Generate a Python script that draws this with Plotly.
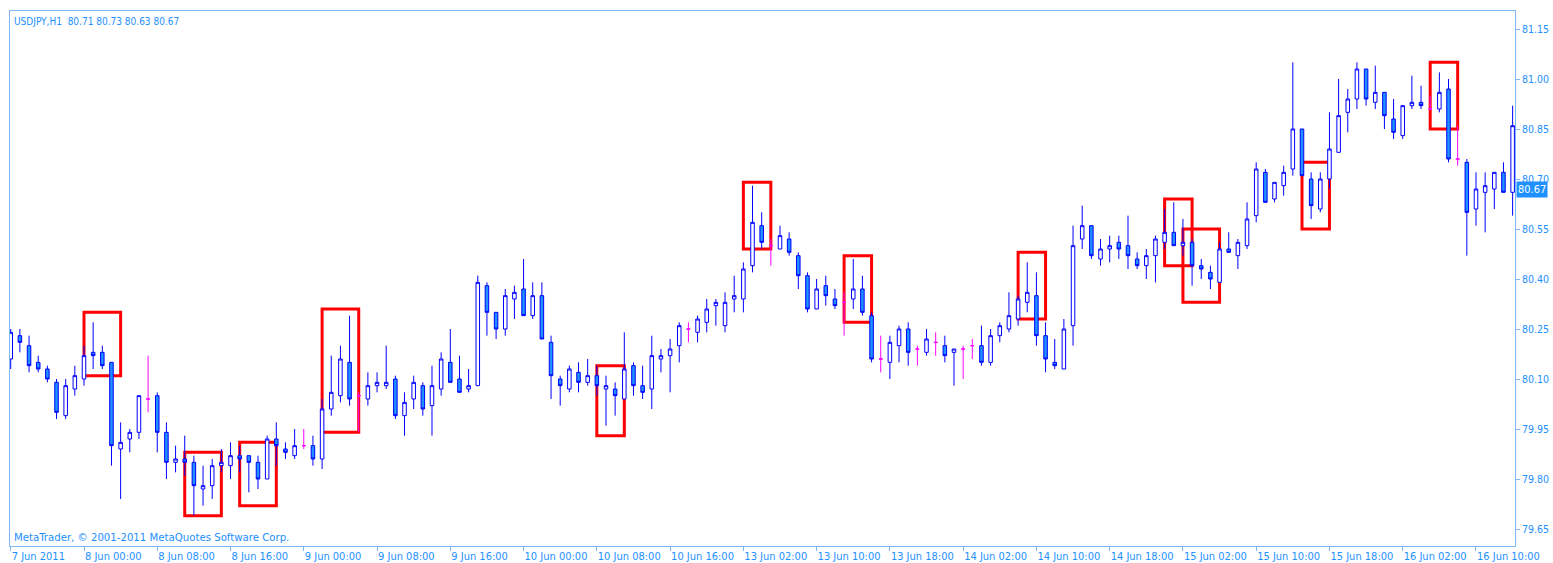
import plotly.graph_objects as go

# ---- data ----
opens = [80.16,80.23,80.20,80.15,80.13,80.09,79.99,80.07,80.10,80.18,
         80.18,80.15,79.89,79.92,79.94,80.04,80.05,79.94,79.85,79.86,
         79.85,79.77,79.78,79.84,79.84,79.87,79.87,79.85,79.80,79.92,
         79.89,79.87,79.90,79.90,79.86,80.01,80.05,80.15,80.05,80.04,
         80.08,80.08,80.10,79.99,80.04,80.08,80.02,80.07,80.15,80.10,
         80.07,80.08,80.38,80.30,80.25,80.34,80.37,80.29,80.35,80.21,
         80.10,80.07,80.12,80.09,80.11,80.07,80.07,80.04,80.14,80.08,
         80.07,80.16,80.17,80.20,80.25,80.24,80.27,80.32,80.26,80.34,
         80.34,80.44,80.56,80.50,80.49,80.52,80.47,80.41,80.31,80.38,
         80.34,80.33,80.34,80.37,80.29,80.16,80.15,80.20,80.25,80.19,
         80.18,80.21,80.20,80.18,80.19,80.20,80.20,80.15,80.23,80.25,
         80.28,80.33,80.35,80.23,80.15,80.13,80.26,80.52,80.56,80.46,
         80.49,80.51,80.50,80.46,80.44,80.47,80.51,80.54,80.50,80.51,
         80.44,80.42,80.39,80.49,80.47,80.50,80.59,80.72,80.64,80.68,
         80.73,80.85,80.70,80.61,80.70,80.78,80.90,80.94,81.03,80.93,
         80.96,80.88,80.83,80.92,80.93,80.91,80.91,80.97,80.76,80.75,
         80.61,80.66,80.67,80.72,80.66,80.71]
highs = [80.25,80.25,80.23,80.17,80.14,80.10,80.10,80.14,80.20,80.27,
         80.20,80.15,79.97,79.95,80.05,80.17,80.06,79.97,79.90,79.93,
         79.87,79.84,79.86,79.89,79.91,79.90,79.87,79.87,79.93,79.97,
         79.91,79.95,79.95,79.93,80.04,80.17,80.20,80.29,80.06,80.12,
         80.12,80.20,80.11,80.06,80.11,80.09,80.14,80.18,80.25,80.17,
         80.13,80.41,80.39,80.30,80.37,80.38,80.46,80.39,80.39,80.23,
         80.11,80.14,80.15,80.16,80.14,80.11,80.09,80.24,80.15,80.14,
         80.23,80.19,80.22,80.27,80.27,80.29,80.34,80.34,80.36,80.41,
         80.45,80.68,80.60,80.52,80.56,80.54,80.48,80.42,80.40,80.41,
         80.37,80.36,80.46,80.41,80.30,80.23,80.23,80.26,80.27,80.20,
         80.25,80.24,80.23,80.19,80.20,80.22,80.26,80.25,80.27,80.36,
         80.35,80.45,80.42,80.27,80.22,80.28,80.56,80.62,80.56,80.52,
         80.53,80.53,80.59,80.48,80.49,80.53,80.61,80.63,80.58,80.52,
         80.46,80.44,80.51,80.54,80.52,80.63,80.75,80.73,80.69,80.74,
         81.05,80.85,80.72,80.72,80.90,81.00,80.97,81.05,81.03,81.04,
         80.96,80.94,80.92,81.01,80.98,80.95,81.02,81.00,80.86,80.76,
         80.72,80.72,80.72,80.75,80.92,80.73]
lows = [80.13,80.18,80.12,80.12,80.09,79.98,79.98,80.05,80.08,80.13,
        80.13,79.84,79.74,79.88,79.92,80.00,79.88,79.80,79.82,79.81,
        79.69,79.72,79.74,79.82,79.80,79.82,79.76,79.77,79.80,79.84,
        79.86,79.86,79.89,79.84,79.83,79.99,80.03,80.02,79.94,80.02,
        80.06,80.07,79.98,79.93,80.01,79.99,79.93,80.05,80.09,80.06,
        80.06,80.08,80.23,80.22,80.23,80.28,80.29,80.28,80.22,80.04,
        80.02,80.06,80.06,80.08,80.05,79.96,79.99,80.04,80.05,80.04,
        80.01,80.12,80.06,80.15,80.21,80.21,80.24,80.26,80.24,80.30,
        80.30,80.42,80.49,80.44,80.49,80.47,80.37,80.30,80.31,80.32,
        80.31,80.23,80.31,80.29,80.15,80.12,80.10,80.15,80.14,80.14,
        80.17,80.17,80.15,80.08,80.10,80.16,80.14,80.14,80.21,80.24,
        80.26,80.30,80.20,80.12,80.13,80.13,80.20,80.49,80.46,80.44,
        80.45,80.46,80.43,80.43,80.40,80.39,80.49,80.50,80.47,80.38,
        80.40,80.37,80.39,80.48,80.43,80.49,80.57,80.63,80.63,80.65,
        80.71,80.71,80.58,80.60,80.67,80.78,80.84,80.91,80.92,80.91,
        80.85,80.82,80.82,80.91,80.91,80.91,80.90,80.75,80.74,80.47,
        80.56,80.54,80.61,80.66,80.59,80.63]
closes = [80.24,80.21,80.14,80.13,80.10,80.00,80.08,80.11,80.17,80.17,
          80.14,79.90,79.91,79.94,80.05,80.04,79.94,79.85,79.86,79.85,
          79.78,79.78,79.84,79.85,79.87,79.86,79.85,79.80,79.92,79.90,
          79.88,79.90,79.90,79.86,80.01,80.06,80.16,80.04,80.05,80.08,
          80.09,80.09,79.99,80.03,80.09,80.01,80.08,80.16,80.09,80.06,
          80.08,80.39,80.30,80.25,80.35,80.36,80.29,80.35,80.22,80.11,
          80.08,80.13,80.09,80.11,80.08,80.08,80.05,80.13,80.08,80.06,
          80.17,80.17,80.19,80.26,80.25,80.28,80.31,80.33,80.33,80.35,
          80.43,80.57,80.51,80.50,80.53,80.48,80.41,80.31,80.37,80.35,
          80.32,80.33,80.37,80.30,80.16,80.16,80.21,80.25,80.18,80.19,
          80.22,80.21,80.17,80.19,80.19,80.20,80.15,80.23,80.26,80.29,
          80.34,80.36,80.23,80.16,80.14,80.25,80.50,80.56,80.47,80.49,
          80.50,80.49,80.47,80.44,80.47,80.52,80.54,80.50,80.51,80.44,
          80.43,80.40,80.49,80.48,80.51,80.58,80.73,80.63,80.69,80.72,
          80.85,80.71,80.62,80.70,80.79,80.89,80.94,81.03,80.94,80.96,
          80.89,80.84,80.92,80.93,80.92,80.91,80.96,80.76,80.76,80.60,
          80.67,80.68,80.72,80.66,80.86,80.67]

tick_labels = ["7 Jun 2011", "8 Jun 00:00", "8 Jun 08:00", "8 Jun 16:00",
               "9 Jun 00:00", "9 Jun 08:00", "9 Jun 16:00", "10 Jun 00:00",
               "10 Jun 08:00", "10 Jun 16:00", "13 Jun 02:00", "13 Jun 10:00",
               "13 Jun 18:00", "14 Jun 02:00", "14 Jun 10:00", "14 Jun 18:00",
               "15 Jun 02:00", "15 Jun 10:00", "15 Jun 18:00", "16 Jun 02:00",
               "16 Jun 10:00"]
bars_per_label = 8

# highlighted patterns: first bar, last bar, top price, bottom price
rect_start = [8, 19, 25, 34, 64, 80, 91, 110, 126, 128, 141, 155]
rect_end = [12, 23, 29, 38, 67, 83, 94, 113, 129, 132, 144, 158]
rect_top = [80.30, 79.88, 79.91, 80.31, 80.14, 80.69, 80.47, 80.48, 80.64, 80.55, 80.75, 81.05]
rect_bottom = [80.11, 79.69, 79.72, 79.94, 79.93, 80.49, 80.27, 80.28, 80.44, 80.33, 80.55, 80.85]

symbol = "USDJPY,H1"

# ---- figure ----
TXT = "#1E90FF"
BORDER = "#7FB8F2"
FONT = "Tahoma, DejaVu Sans Condensed, DejaVu Sans, sans-serif"

idx = list(range(len(opens)))
normal = [i for i in idx if opens[i] != closes[i]]
doji = [i for i in idx if opens[i] == closes[i]]

fig = go.Figure()
fig.add_trace(go.Candlestick(
    x=normal,
    open=[opens[i] for i in normal], high=[highs[i] for i in normal],
    low=[lows[i] for i in normal], close=[closes[i] for i in normal],
    increasing=dict(line=dict(color="#0000FF", width=1), fillcolor="#FFFFFF"),
    decreasing=dict(line=dict(color="#0000FF", width=1), fillcolor="#1E90FF"),
    whiskerwidth=0, hoverinfo="skip", showlegend=False))
fig.add_trace(go.Candlestick(
    x=doji,
    open=[opens[i] for i in doji], high=[highs[i] for i in doji],
    low=[lows[i] for i in doji], close=[closes[i] for i in doji],
    increasing=dict(line=dict(color="#FF00FF", width=1), fillcolor="#FF00FF"),
    decreasing=dict(line=dict(color="#FF00FF", width=1), fillcolor="#FF00FF"),
    whiskerwidth=0, hoverinfo="skip", showlegend=False))

for s, e, t, b in zip(rect_start, rect_end, rect_top, rect_bottom):
    fig.add_shape(type="rect", x0=s, x1=e, y0=b, y1=t, xref="x", yref="y",
                  line=dict(color="#FF0000", width=3), layer="below")

last = len(opens) - 1
fig.add_annotation(
    xref="paper", yref="paper", x=0, y=1, xanchor="left", yanchor="top",
    xshift=2, yshift=-3, showarrow=False,
    text=f"{symbol}  {opens[last]:.2f} {highs[last]:.2f} {lows[last]:.2f} {closes[last]:.2f}",
    font=dict(family=FONT, size=10, color=TXT))
fig.add_annotation(
    xref="paper", yref="paper", x=0, y=0, xanchor="left", yanchor="bottom",
    xshift=2, yshift=0, showarrow=False,
    text="MetaTrader, © 2001-2011 MetaQuotes Software Corp.",
    font=dict(family=FONT, size=11.3, color=TXT))
fig.add_annotation(
    xref="paper", yref="y", x=1, y=closes[last], xanchor="left", yanchor="middle",
    xshift=1, showarrow=False, text=f"{closes[last]:.2f}",
    bgcolor="#1E90FF", borderpad=1,
    font=dict(family=FONT, size=11, color="#FFFFFF"))

fig.update_layout(
    width=1553, height=563,
    margin=dict(l=10, r=38, t=11, b=17),
    paper_bgcolor="#FFFFFF", plot_bgcolor="#FFFFFF",
    boxgap=0.45,
    font=dict(family=FONT, size=11, color=TXT),
    xaxis=dict(
        range=[-0.08, 164.26], rangeslider=dict(visible=False),
        tickmode="array",
        tickvals=[k * bars_per_label for k in range(len(tick_labels))],
        ticktext=tick_labels, ticklabelposition="outside right",
        ticks="outside", ticklen=4, tickcolor=BORDER,
        showgrid=False, zeroline=False, showline=True, mirror=True,
        linecolor=BORDER, linewidth=1, automargin=False,
        tickfont=dict(family=FONT, size=11, color=TXT)),
    yaxis=dict(
        range=[79.599, 81.204], side="right",
        tick0=79.65, dtick=0.15, tickformat=".2f",
        ticks="outside", ticklen=4, tickcolor=BORDER,
        showgrid=False, zeroline=False, showline=True, mirror=True,
        linecolor=BORDER, linewidth=1, automargin=False,
        tickfont=dict(family=FONT, size=10.5, color=TXT)),
)

# remove the default 8px page margin so the figure fills the window exactly
fig.write_html(
    "out.html",
    config={"displayModeBar": False},
    post_script="document.body.style.margin='0';document.body.style.overflow='hidden';")
